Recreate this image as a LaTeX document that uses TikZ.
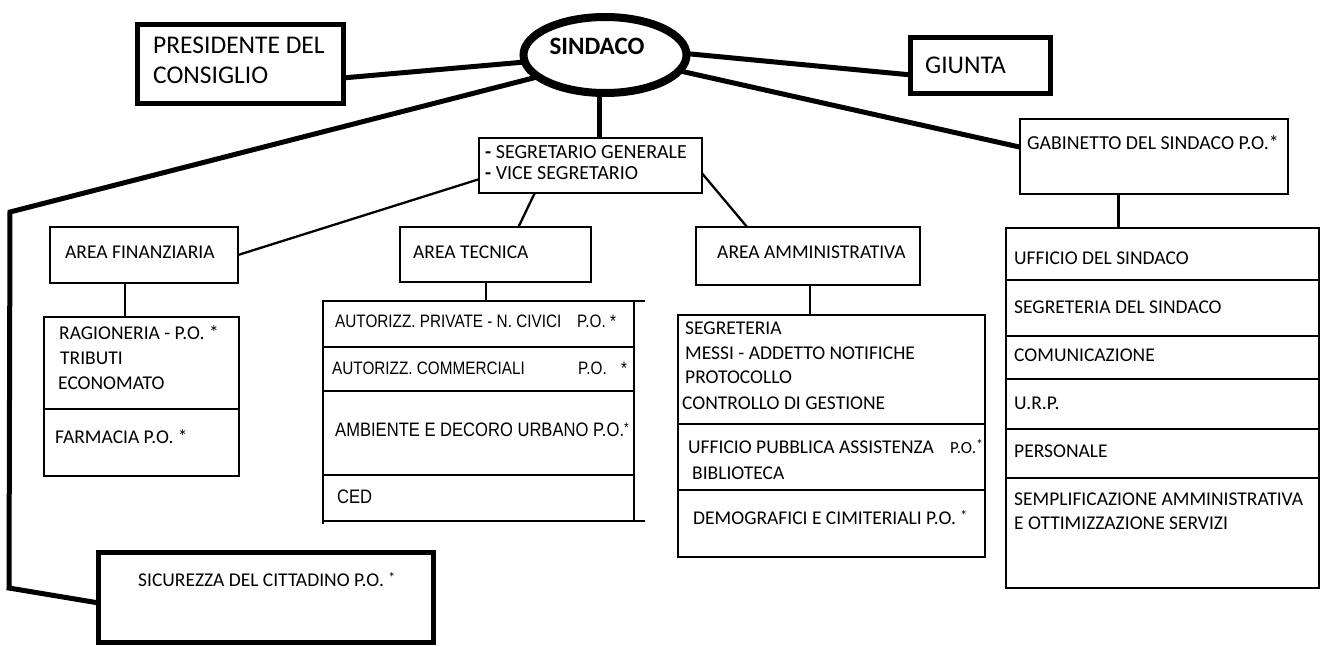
\documentclass[tikz,border=0pt]{standalone}
\usepackage{fontspec}
\setmainfont{Carlito}
\newfontfamily\narrowfont[FakeStretch=0.85]{Liberation Sans}
\usetikzlibrary{shapes.geometric,calc}
\newcommand{\mybox}[6][thinbox]{\node[#1, minimum width={#5-#3}, minimum height={#6-#4}] (#2) at ({(#3+#5)/2},{(#4+#6)/2}) {};}
\newcommand{\tx}[4][]{\node[lbl,#1] (#2) at (#3) {#4};}
\newcommand{\rast}{\raisebox{4pt}{\fontsize{14}{14}\selectfont *}}
\begin{document}
\begin{tikzpicture}[x=1pt,y=-1pt,
  thinbox/.style={draw, line width=2.4pt, inner sep=0pt, outer sep=0pt},
  thickbox/.style={draw, line width=5pt, inner sep=0pt, outer sep=0pt},
  thinline/.style={line width=2.3pt},
  thickline/.style={line width=5pt},
  lbl/.style={inner sep=0pt, anchor=west, font=\fontsize{19.5}{22}\selectfont},
  big/.style={font=\fontsize{25.5}{30}\selectfont},
  narrow/.style={font=\narrowfont\fontsize{18}{20}\selectfont},
  narrowb/.style={font=\narrowfont\fontsize{19.5}{22}\selectfont}]
\useasboundingbox[fill=white] (0,0) rectangle (1324,646);

% top level
\mybox[thickbox]{pres}{137.5}{24}{343}{103}
\node[draw, ellipse, line width=8pt, minimum width=163pt, minimum height=76pt, inner sep=0pt, outer sep=0pt] (sindaco) at (605,55) {};
\mybox[thickbox]{giunta}{910}{37}{1050}{93}
\mybox{segr}{479}{138}{702}{193}
\mybox{gab}{1020}{119}{1288}{194}

% areas
\mybox{areafin}{50}{227}{238}{283}
\mybox{ragion}{44}{317}{239}{409}
\mybox{farm}{44}{409}{239}{476}

\mybox{areatec}{400}{227}{591}{282}
\mybox{tecA}{323}{301}{634}{347}
\mybox{tecB}{323}{347}{634}{391}
\mybox{tecC}{323}{391}{634}{475}
\mybox{tecD}{323}{475}{634}{521}

\mybox{areaamm}{696}{227}{920}{285}
\mybox{ammA}{678}{315}{985}{424}
\mybox{ammB}{678}{424}{985}{490}
\mybox{ammC}{678}{490}{985}{557}

\mybox{stA}{1006}{228}{1319}{280}
\mybox{stB}{1006}{280}{1319}{336}
\mybox{stC}{1006}{336}{1319}{379}
\mybox{stD}{1006}{379}{1319}{429}
\mybox{stE}{1006}{429}{1319}{478}
\mybox{stF}{1006}{478}{1319}{588}

\mybox[thickbox]{sicur}{98}{552}{433}{642}

% extra strokes on the technical stack
\coordinate (tecTopEnd) at ($(tecA.north east)+(11,0)$);
\coordinate (tecBotEnd) at ($(tecD.south east)+(11,0)$);
\coordinate (tecLeftEnd) at ($(tecD.south west)+(0,3)$);
\draw[thinline] (tecA.north east) -- (tecTopEnd);
\draw[thinline] (tecD.south east) -- (tecBotEnd);
\draw[thinline] (tecD.south west) -- (tecLeftEnd);

% connectors
\draw[thickline] (pres.-8) -- (sindaco.185);
\draw[thickline] (sindaco.1) -- (giunta.188);
\draw[thickline] (sindaco.-12) -- (gab.176);
\coordinate (sg) at ($(segr.north west)!0.54!(segr.north east)$);
\draw[line width=4.5pt] (sindaco.south -| sg) -- (sg);
\coordinate (c1) at (10,212);
\coordinate (c2) at (9,588);
\draw[thickline, line join=miter] (sindaco.198) -- (c1) -- (c2) -- (sicur.182);
\draw[thinline] ($(segr.east)+(0,3)$) -- ($(segr.east)+(0,3)$ -| gab.west);
\draw[thinline] (segr.187) -- (areafin.east);
\draw[thinline] ($(segr.south west)!0.25!(segr.south east)$) -- ($(areatec.north west)!0.62!(areatec.north east)$);
\draw[thinline] (segr.-4) -- ($(areaamm.north west)!0.228!(areaamm.north east)$);
\draw[thinline] ($(areafin.south west)!0.4!(areafin.south east)$) coordinate (fa) -- (fa |- ragion.north);
\draw[thinline] ($(areatec.south west)!0.45!(areatec.south east)$) coordinate (ta) -- (ta |- tecA.north);
\draw[thinline] ($(areaamm.south west)!0.51!(areaamm.south east)$) coordinate (aa) -- (aa |- ammA.north);
\draw[thinline] ($(gab.south west)!0.367!(gab.south east)$) coordinate (ga) -- (ga |- stA.north);

% texts
\tx[big]{tpres1}{153,45}{PRESIDENTE DEL}
\tx[big]{tpres2}{153,75}{CONSIGLIO}
\node[inner sep=0pt, font=\fontsize{25}{30}\selectfont\bfseries] (tsind) at (597,46) {SINDACO};
\tx[big]{tgiunta}{925,65}{GIUNTA}
\tx[font=\fontsize{20}{22}\selectfont]{tsegr1}{485,152}{\textbf{-} SEGRETARIO GENERALE}
\tx[font=\fontsize{20}{22}\selectfont]{tsegr2}{485,173}{\textbf{-} VICE SEGRETARIO}
\tx[font=\fontsize{19.8}{22}\selectfont]{tgab}{1027,143}{GABINETTO DEL SINDACO P.O.*}

\tx{tfin}{65,252}{AREA FINANZIARIA}
\tx{trag1}{59,333}{RAGIONERIA - P.O. *}
\tx{trag2}{60,358}{TRIBUTI}
\tx{trag3}{58,383}{ECONOMATO}
\tx{tfarm}{55,437}{FARMACIA P.O. *}

\tx{ttec}{413,252}{AREA TECNICA}
\tx[narrow]{ttecA}{335,321}{AUTORIZZ. PRIVATE - N. CIVICI}
\tx[narrow]{ttecAp}{577,321}{P.O. *}
\tx[narrow]{ttecB}{332,368}{AUTORIZZ. COMMERCIALI}
\tx[narrow]{ttecBp}{578,368}{P.O.}
\tx[narrow]{ttecBs}{621,368}{*}
\tx[narrowb]{ttecC}{335,430}{AMBIENTE E DECORO URBANO P.O.\rast}
\tx[narrowb]{ttecD}{337,497}{CED}

\tx{tamm}{717,252}{AREA AMMINISTRATIVA}
\tx{tammA1}{685,328}{SEGRETERIA}
\tx{tammA2}{685,353}{MESSI - ADDETTO NOTIFICHE}
\tx{tammA3}{685,377}{PROTOCOLLO}
\tx{tammA4}{682,403}{CONTROLLO DI GESTIONE}
\tx{tammB1}{688,447}{UFFICIO PUBBLICA ASSISTENZA}
\tx[font=\fontsize{17}{20}\selectfont]{tammB1p}{950,447}{P.O.\rast}
\tx{tammB2}{692,473}{BIBLIOTECA}
\tx{tammC}{693,518}{DEMOGRAFICI E CIMITERIALI P.O. \rast}

\tx{tstA}{1014,258}{UFFICIO DEL SINDACO}
\tx{tstB}{1014,307}{SEGRETERIA DEL SINDACO}
\tx{tstC}{1014,355}{COMUNICAZIONE}
\tx{tstD}{1014,403}{U.R.P.}
\tx{tstE}{1014,451}{PERSONALE}
\tx{tstF1}{1014,499}{SEMPLIFICAZIONE AMMINISTRATIVA}
\tx{tstF2}{1014,523}{E OTTIMIZZAZIONE SERVIZI}

\tx{tsicur}{138,580}{SICUREZZA DEL CITTADINO P.O. \rast}
\end{tikzpicture}
\end{document}
